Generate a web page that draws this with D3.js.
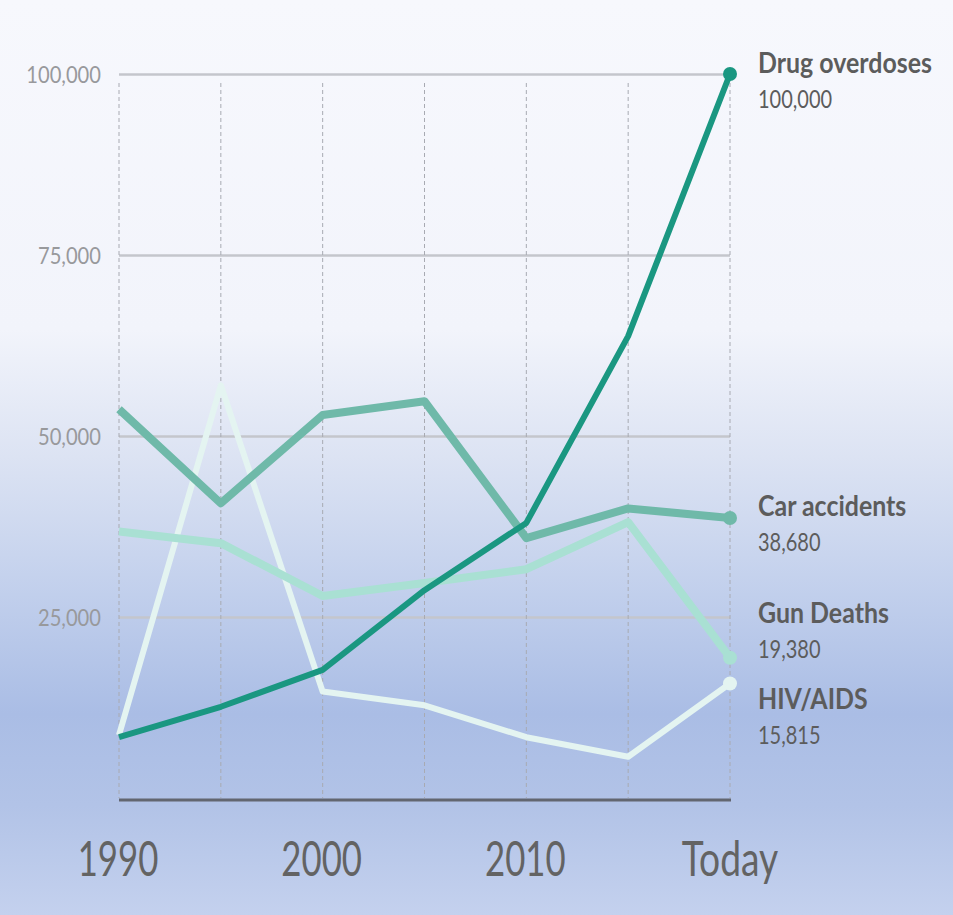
<!DOCTYPE html>
<html>
<head>
<meta charset="utf-8">
<script src="https://cdn.jsdelivr.net/npm/d3@7"></script>
<style>
  html, body { margin: 0; padding: 0; }
  body { width: 953px; height: 915px; overflow: hidden; }
  svg { display: block; font-family: Lato, "Open Sans", sans-serif; }
</style>
</head>
<body>
<div id="chart"></div>
<script>
// data
const years = [1990, 1995, 2000, 2005, 2010, 2015, 2020];
const xTickLabels = ["1990", "", "2000", "", "2010", "", "Today"];
const yTicks = [25000, 50000, 75000, 100000];

const drugOverdoses = [8400, 12600, 17700, 28700, 38000, 63800, 100000];
const carAccidents  = [53700, 40700, 52900, 54800, 35900, 40000, 38680];
const gunDeaths     = [36800, 35200, 27900, 29700, 31600, 38100, 19380];
const hivAids       = [8700, 57000, 14700, 12800, 8400, 5700, 15815];

const seriesNames  = ["HIV/AIDS", "Gun Deaths", "Car accidents", "Drug overdoses"];
const seriesValues = [hivAids, gunDeaths, carAccidents, drugOverdoses];
const seriesLabels = ["15,815", "19,380", "38,680", "100,000"];
const seriesColors = ["#e4f4f1", "#a9e0d3", "#6fb9a9", "#1a9781"];
const seriesWidths = [6, 8, 8, 6];

const W = 953, H = 915;
const margin = { top: 74, left: 119, right: 223, bottom: 117 };

const svg = d3.select("#chart").append("svg")
  .attr("width", W)
  .attr("height", H);

// background gradient
const defs = svg.append("defs");
const grad = defs.append("linearGradient")
  .attr("id", "bg").attr("x1", 0).attr("y1", 0).attr("x2", 0).attr("y2", 1);
[[0, "#f7f8fd"], [0.36, "#f2f4fb"], [0.5, "#dce3f3"], [0.65, "#c1cfec"], [0.78, "#aabde5"], [0.88, "#b2c3e7"], [1, "#c4d1ee"]]
  .forEach(s => grad.append("stop").attr("offset", s[0]).attr("stop-color", s[1]));
svg.append("rect").attr("width", W).attr("height", H).attr("fill", "url(#bg)");

const x = d3.scaleLinear()
  .domain([1990, 2020])
  .range([margin.left, W - margin.right]);

const y = d3.scaleLinear()
  .domain([0, 100000])
  .range([H - margin.bottom, margin.top]);

// horizontal grid
const yGrid = svg.append("g")
  .attr("transform", `translate(${margin.left},0)`)
  .call(d3.axisLeft(y).tickValues(yTicks).tickSize(-(x(2020) - x(1990))).tickFormat(""));
yGrid.select(".domain").remove();
yGrid.selectAll(".tick line")
  .attr("stroke", "#c4c6cc")
  .attr("stroke-width", 2.5);

// y labels
svg.append("g").selectAll("text")
  .data(yTicks)
  .enter().append("text")
  .attr("transform", d => `translate(101,${y(d) + 9}) scale(0.84,1)`)
  .attr("text-anchor", "end")
  .attr("font-size", "24px")
  .attr("fill", "#98999c")
  .text(d => d3.format(",")(d));

// vertical dashed lines
svg.append("g").selectAll("line")
  .data(years)
  .enter().append("line")
  .attr("x1", d => x(d)).attr("x2", d => x(d))
  .attr("y1", y(100000) + 9).attr("y2", y(0))
  .attr("stroke", "#a8aab2")
  .attr("stroke-width", 1)
  .attr("stroke-dasharray", "4,3");

// baseline
svg.append("line")
  .attr("x1", x(1990)).attr("x2", x(2020) + 1)
  .attr("y1", y(0) + 2).attr("y2", y(0) + 2)
  .attr("stroke", "#626670")
  .attr("stroke-width", 3);

// x labels
svg.append("g").selectAll("text")
  .data(years.filter((d, i) => xTickLabels[i] !== ""))
  .enter().append("text")
  .attr("transform", d => `translate(${x(d) + (d === 2020 ? 0 : -1)},${y(0) + 78}) scale(${d === 2020 ? 0.76 : 0.71},1)`)
  .attr("text-anchor", "middle")
  .attr("font-size", "49px")
  .attr("fill", "#636363")
  .text(d => xTickLabels[years.indexOf(d)]);

// lines
const line = d3.line()
  .x((d, i) => x(years[i]))
  .y(d => y(d));

seriesValues.forEach((vals, k) => {
  svg.append("path")
    .datum(vals)
    .attr("fill", "none")
    .attr("stroke", seriesColors[k])
    .attr("stroke-width", seriesWidths[k])
    .attr("stroke-linejoin", "round")
    .attr("d", line);
  svg.append("circle")
    .attr("cx", x(2020))
    .attr("cy", y(vals[vals.length - 1]))
    .attr("r", 7)
    .attr("fill", seriesColors[k]);
});

// end labels
const labelY = { "Drug overdoses": 73, "Car accidents": 516, "Gun Deaths": 623, "HIV/AIDS": 709 };
seriesNames.forEach((name, k) => {
  const g = svg.append("g").attr("transform", `translate(758,${labelY[name]})`);
  g.append("text")
    .attr("transform", "scale(0.86,1)")
    .attr("font-size", "29px")
    .attr("font-weight", "bold")
    .attr("fill", "#5c5c5c")
    .text(name);
  g.append("text")
    .attr("transform", "translate(0,35) scale(0.8,1)")
    .attr("font-size", "25px")
    .attr("fill", "#5c5c5c")
    .text(seriesLabels[k]);
});
</script>
</body>
</html>
